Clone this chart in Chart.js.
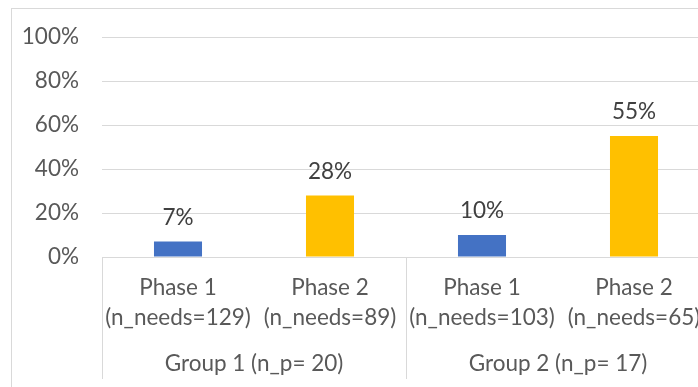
<!DOCTYPE html>
<html>
<head>
<meta charset="utf-8">
<script src="https://cdn.jsdelivr.net/npm/chart.js@4.4.0/dist/chart.umd.min.js"></script>
<style>
  html, body { margin: 0; padding: 0; overflow: hidden; background: #fff; }
  #frame {
    position: absolute; left: 11px; top: 8px;
    border-left: 1px solid #d9d9d9; border-top: 1px solid #d9d9d9;
  }
  canvas { display: block; }
</style>
</head>
<body>
<div id="frame"><canvas id="needsChart" width="720" height="378"></canvas></div>
<script>
// chart data
const phases = ['Phase 1', 'Phase 2', 'Phase 1', 'Phase 2'];
const needsCounts = [129, 89, 103, 65];
const groups = ['Group 1 (n_p= 20)', 'Group 2 (n_p= 17)'];
const shares = [7, 28, 10, 55];
const barColors = ['#4472c4', '#ffc000', '#4472c4', '#ffc000'];
const yMin = 0, yMax = 100, yStep = 20;

const fontSize = 22.5;
const labelFont = { family: 'Lato', size: fontSize };
const textGrey = '#595959';
const lineGrey = '#d9d9d9';

// value labels on top of each bar
const valueLabels = {
  id: 'valueLabels',
  afterDatasetsDraw(chart) {
    const ctx = chart.ctx;
    const meta = chart.getDatasetMeta(0);
    ctx.save();
    ctx.font = fontSize + 'px Lato';
    ctx.fillStyle = '#404040';
    ctx.textAlign = 'center';
    ctx.textBaseline = 'middle';
    meta.data.forEach(function (bar, i) {
      ctx.fillText(shares[i] + '%', bar.x, bar.y - 24);
    });
    ctx.restore();
  }
};

// vertical lines between the groups, down through the label rows
const groupLines = {
  id: 'groupLines',
  afterDraw(chart) {
    const ctx = chart.ctx;
    const g = chart.scales.group;
    const step = (g.right - g.left) / groups.length;
    ctx.save();
    ctx.strokeStyle = lineGrey;
    ctx.lineWidth = 1;
    for (let i = 0; i <= groups.length; i++) {
      const x = Math.round(g.left + i * step) + 0.5;
      ctx.beginPath();
      ctx.moveTo(x, chart.chartArea.bottom);
      ctx.lineTo(x, g.bottom + 2);
      ctx.stroke();
    }
    ctx.restore();
  }
};

const chart = new Chart(document.getElementById('needsChart'), {
  type: 'bar',
  data: {
    labels: phases.map(function (p, i) { return [p, '(n_needs=' + needsCounts[i] + ')']; }),
    datasets: [{
      data: shares,
      backgroundColor: barColors,
      barPercentage: 0.316,
      categoryPercentage: 1
    }]
  },
  options: {
    responsive: false,
    animation: false,
    layout: { padding: { left: 0, top: 28, right: 22, bottom: 10 } },
    plugins: { legend: { display: false }, tooltip: { enabled: false } },
    scales: {
      x: {
        grid: { display: false },
        border: { display: true, color: lineGrey, width: 1 },
        ticks: { color: textGrey, font: { family: 'Lato', size: fontSize, lineHeight: '30px' }, padding: 8, maxRotation: 0, autoSkip: false },
        afterFit: function (scale) { scale.height = 72; }
      },
      group: {
        type: 'category',
        position: 'bottom',
        labels: groups,
        offset: true,
        grid: { display: false },
        border: { display: false },
        ticks: { color: textGrey, font: labelFont, padding: 13, maxRotation: 0 },
        afterFit: function (scale) { scale.height = 48; }
      },
      y: {
        min: yMin,
        max: yMax,
        grid: { color: lineGrey, lineWidth: 1, drawTicks: false },
        border: { display: false },
        ticks: {
          stepSize: yStep,
          color: textGrey,
          font: labelFont,
          padding: 23,
          callback: function (v) { return v + '%'; }
        },
        afterFit: function (scale) {
          scale.width = 90;
          scale.paddingTop = 0;
          scale.paddingBottom = 0;
        }
      }
    }
  },
  plugins: [valueLabels, groupLines]
});
</script>
</body>
</html>
